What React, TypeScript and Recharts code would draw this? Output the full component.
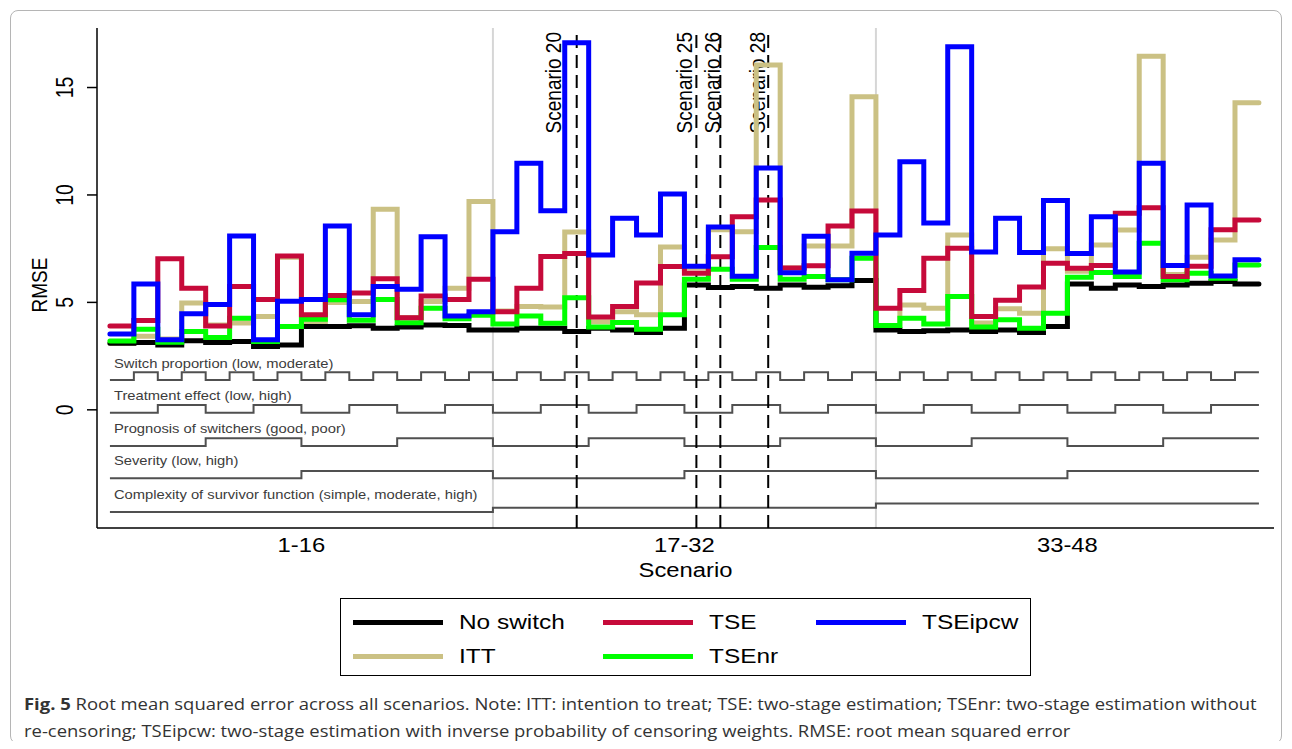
import React from "react";
import {
  Line,
  LineChart,
  ReferenceDot,
  ReferenceLine,
  XAxis,
  YAxis,
} from "recharts";

// RMSE per scenario (1..48)
const noSwitch = [
  3.1, 3.13, 3.02, 3.22, 3.13, 3.18, 2.95, 3.02, 3.88, 3.88, 3.91, 3.8,
  3.85, 3.95, 3.92, 3.72, 3.72, 3.8, 3.8, 3.65, 3.8, 3.72, 3.6, 3.8,
  5.81, 5.69, 5.74, 5.66, 5.81, 5.71, 5.77, 6.02, 3.72, 3.64, 3.68, 3.72,
  3.64, 3.72, 3.6, 3.88, 5.86, 5.66, 5.81, 5.74, 5.81, 5.89, 5.97, 5.85,
];
const tse = [
  3.9, 4.16, 7.03, 5.66, 3.9, 5.74, 5.14, 7.16, 4.42, 5.32, 5.44, 6.1,
  4.28, 5.3, 5.13, 6.08, 4.57, 5.66, 7.13, 7.27, 4.32, 4.81, 5.9, 6.67,
  6.36, 7.12, 8.99, 9.76, 6.6, 6.7, 8.55, 9.25, 4.73, 5.55, 7.05, 7.52,
  4.34, 5.1, 5.72, 6.82, 6.59, 6.72, 9.15, 9.41, 6.2, 6.68, 8.38, 8.84,
];
const tseIpcw = [
  3.53, 5.85, 3.26, 4.47, 4.9, 8.09, 3.26, 5.05, 5.13, 8.56, 4.42, 5.74,
  5.61, 8.06, 4.37, 4.57, 8.29, 11.47, 9.27, 17.08, 7.21, 8.91, 8.14, 10.05,
  6.68, 8.51, 6.22, 11.25, 6.38, 8.08, 6.05, 7.29, 8.14, 11.55, 8.7, 16.9,
  7.34, 8.91, 7.32, 9.74, 7.28, 8.99, 6.41, 11.47, 6.72, 9.53, 6.23, 6.98,
];
const itt = [
  3.1, 3.42, 3.3, 4.97, 3.95, 4.04, 4.34, 7.1, 4.05, 5.0, 5.04, 9.33,
  4.3, 5.04, 5.66, 9.7, 4.6, 4.81, 4.78, 8.28, 4.1, 4.57, 4.42, 7.58,
  6.6, 8.38, 8.29, 16.05, 6.6, 7.62, 7.62, 14.57, 3.9, 4.88, 4.73, 8.14,
  4.04, 4.7, 4.5, 7.5, 6.45, 7.67, 8.37, 16.45, 6.3, 7.1, 7.9, 14.29,
];
const tseNr = [
  3.2, 3.75, 3.15, 3.64, 3.37, 4.26, 3.18, 3.88, 4.22, 5.12, 4.17, 5.13,
  4.05, 4.73, 4.24, 4.4, 4.0, 4.37, 4.03, 5.22, 3.85, 4.06, 3.75, 4.42,
  6.08, 6.54, 6.08, 7.55, 6.08, 6.2, 6.05, 7.05, 3.92, 4.26, 4.0, 5.27,
  3.85, 4.19, 3.8, 4.5, 6.17, 6.39, 6.2, 7.75, 6.05, 6.36, 6.12, 6.74,
];

// design factor levels per scenario
const switchLevels = [
  0, 1, 0, 1, 0, 1, 0, 1, 0, 1, 0, 1, 0, 1, 0, 1, 0, 1, 0, 1, 0, 1, 0, 1,
  0, 1, 0, 1, 0, 1, 0, 1, 0, 1, 0, 1, 0, 1, 0, 1, 0, 1, 0, 1, 0, 1, 0, 1,
];
const effectLevels = [
  0, 0, 1, 1, 0, 0, 1, 1, 0, 0, 1, 1, 0, 0, 1, 1, 0, 0, 1, 1, 0, 0, 1, 1,
  0, 0, 1, 1, 0, 0, 1, 1, 0, 0, 1, 1, 0, 0, 1, 1, 0, 0, 1, 1, 0, 0, 1, 1,
];
const prognosisLevels = [
  0, 0, 0, 0, 1, 1, 1, 1, 0, 0, 0, 0, 1, 1, 1, 1, 0, 0, 0, 0, 1, 1, 1, 1,
  0, 0, 0, 0, 1, 1, 1, 1, 0, 0, 0, 0, 1, 1, 1, 1, 0, 0, 0, 0, 1, 1, 1, 1,
];
const severityLevels = [
  0, 0, 0, 0, 0, 0, 0, 0, 1, 1, 1, 1, 1, 1, 1, 1, 0, 0, 0, 0, 0, 0, 0, 0,
  1, 1, 1, 1, 1, 1, 1, 1, 0, 0, 0, 0, 0, 0, 0, 0, 1, 1, 1, 1, 1, 1, 1, 1,
];
const complexityLevels = [
  0, 0, 0, 0, 0, 0, 0, 0, 0, 0, 0, 0, 0, 0, 0, 0, 1, 1, 1, 1, 1, 1, 1, 1,
  1, 1, 1, 1, 1, 1, 1, 1, 2, 2, 2, 2, 2, 2, 2, 2, 2, 2, 2, 2, 2, 2, 2, 2,
];

const blockTicks = [8.5, 24.5, 40.5];
const blockLabels = ["1-16", "17-32", "33-48"];
const blockEdges = [16.5, 32.5];
const markedScenarios = [20, 25, 26, 28];
const yTicks = [0, 5, 10, 15];

// px gap between each scenario label and its dashed line
const LABEL_GAPS = [16, 4, 0, 3];

// draw order: first is at the bottom
const SERIES = [
  { key: "itt", name: "ITT", values: itt, color: "#cbc184" },
  { key: "noSwitch", name: "No switch", values: noSwitch, color: "#000000" },
  { key: "tseNr", name: "TSEnr", values: tseNr, color: "#00ff00" },
  { key: "tse", name: "TSE", values: tse, color: "#c60a3a" },
  { key: "tseIpcw", name: "TSEipcw", values: tseIpcw, color: "#0000ff" },
];

const FACTORS = [
  { label: "Switch proportion (low, moderate)", levels: switchLevels, base: 1.387, step: 0.358, labelY: 2.16 },
  { label: "Treatment effect (low, high)", levels: effectLevels, base: -0.135, step: 0.358, labelY: 0.675 },
  { label: "Prognosis of switchers (good, poor)", levels: prognosisLevels, base: -1.685, step: 0.358, labelY: -0.86 },
  { label: "Severity (low, high)", levels: severityLevels, base: -3.188, step: 0.34, labelY: -2.374 },
  { label: "Complexity of survivor function (simple, moderate, high)", levels: complexityLevels, base: -4.757, step: 0.2, labelY: -3.928 },
];

const LEGEND_ORDER = ["noSwitch", "tse", "tseIpcw", "itt", "tseNr"];
const LEGEND_SLOTS = [
  { left: 12, top: 23 },
  { left: 262, top: 23 },
  { left: 475, top: 23 },
  { left: 12, top: 57 },
  { left: 262, top: 57 },
];

const N = noSwitch.length;
const data = Array.from({ length: N + 1 }, (_, i) => {
  const k = Math.min(i, N - 1);
  const row: Record<string, number> = { x: i + 0.5 };
  SERIES.forEach((s) => {
    row[s.key] = s.values[k];
  });
  FACTORS.forEach((f, j) => {
    row[`f${j}`] = f.base + f.levels[k] * f.step;
  });
  return row;
});

const FONT = "'Liberation Sans', Arial, sans-serif";
// the source picture is stretched sideways, so text gets the same stretch
const SX = 1.19;
const stretch = (x: number, y: number, rotate = 0) =>
  `translate(${x} ${y}) scale(${SX} 1)${rotate ? ` rotate(${rotate})` : ""} translate(${-x} ${-y})`;

const XTick = (props: any) => {
  const { x, y, payload } = props;
  const label = blockLabels[blockTicks.indexOf(payload.value)];
  return (
    <text
      x={x}
      y={y + 15}
      transform={stretch(x, y + 15)}
      textAnchor="middle"
      fontSize={20}
      fill="#000"
      fontFamily={FONT}
    >
      {label}
    </text>
  );
};

const XTitle = (props: any) => {
  const { viewBox } = props;
  const x = viewBox.x + viewBox.width / 2;
  const y = viewBox.y + 49;
  return (
    <text
      x={x}
      y={y}
      transform={stretch(x, y)}
      textAnchor="middle"
      fontSize={20}
      fill="#000"
      fontFamily={FONT}
    >
      Scenario
    </text>
  );
};

const YTick = (props: any) => {
  const { x, y, payload } = props;
  return (
    <text
      x={x}
      y={y}
      transform={stretch(x, y, -90)}
      textAnchor="middle"
      fontSize={19.5}
      fill="#000"
      fontFamily={FONT}
    >
      {payload.value}
    </text>
  );
};

const YTitle = (props: any) => {
  const { viewBox } = props;
  const x = viewBox.x + 39;
  const y = viewBox.y + viewBox.height / 2 + 7;
  return (
    <text
      x={x}
      y={y}
      transform={stretch(x, y, -90)}
      textAnchor="middle"
      fontSize={19}
      fill="#000"
      fontFamily={FONT}
    >
      RMSE
    </text>
  );
};

const scenarioLabel = (text: string, gap: number) => (props: any) => {
  const { viewBox } = props;
  const x = viewBox.x - gap;
  const y = viewBox.y + 4;
  return (
    <text
      x={x}
      y={y}
      transform={stretch(x, y, -90)}
      textAnchor="end"
      fontSize={19}
      fill="#000"
      fontFamily={FONT}
    >
      {text}
    </text>
  );
};

const factorLabel = (text: string) => (props: any) => {
  const { viewBox } = props;
  const x = viewBox.x + 4;
  const y = viewBox.y + 4.4;
  return (
    <text
      x={x}
      y={y}
      transform={stretch(x, y)}
      fontSize={12.4}
      fill="#3c3c3c"
      fontFamily={FONT}
    >
      {text}
    </text>
  );
};

const App: React.FC = () => {
  const byKey = Object.fromEntries(SERIES.map((s) => [s.key, s]));

  return (
    <div
      style={{
        position: "relative",
        width: 1276,
        height: 733,
        fontFamily: FONT,
      }}
    >
      <div
        style={{
          position: "absolute",
          left: 2,
          top: 2,
          width: 1272,
          height: 734,
          border: "1px solid #b5b5b5",
          borderRadius: 8,
          boxSizing: "border-box",
        }}
      />

      <LineChart
        width={1276}
        height={600}
        data={data}
        margin={{ top: 20, right: 10, bottom: 0, left: 0 }}
        style={{ position: "absolute", left: 0, top: 0 }}
      >
        <XAxis
          type="number"
          dataKey="x"
          domain={[-0.04, 49.13]}
          ticks={blockTicks}
          interval={0}
          height={80}
          tickLine={false}
          tickMargin={3}
          axisLine={{ stroke: "#000", strokeWidth: 1.5 }}
          tick={<XTick />}
          label={{ content: <XTitle /> }}
        />
        <YAxis
          type="number"
          domain={[-5.5, 17.77]}
          ticks={yTicks}
          interval={0}
          width={89}
          tickSize={10}
          tickMargin={14}
          axisLine={{ stroke: "#000", strokeWidth: 1.5 }}
          tickLine={{ stroke: "#000", strokeWidth: 1.5 }}
          tick={<YTick />}
          label={{ content: <YTitle /> }}
        />

        {blockEdges.map((x) => (
          <ReferenceLine key={`edge-${x}`} x={x} stroke="#d6d6d6" strokeWidth={2} />
        ))}

        {FACTORS.map((f, j) => (
          <Line
            key={`f${j}`}
            type="stepAfter"
            dataKey={`f${j}`}
            stroke="#505050"
            strokeWidth={2}
            dot={false}
            activeDot={false}
            legendType="none"
            isAnimationActive={false}
          />
        ))}
        {FACTORS.map((f, j) => (
          <ReferenceDot
            key={`fl${j}`}
            x={0.5}
            y={f.labelY}
            r={0}
            shape={() => <g />}
            label={{ content: factorLabel(f.label) }}
          />
        ))}

        {markedScenarios.map((s, i) => (
          <ReferenceLine
            key={`sc-${s}`}
            x={s}
            stroke="#000"
            strokeWidth={2}
            strokeDasharray="13 7"
            label={{ content: scenarioLabel(`Scenario ${s}`, LABEL_GAPS[i]) }}
          />
        ))}

        {SERIES.map((s) => (
          <Line
            key={s.key}
            type="stepAfter"
            dataKey={s.key}
            name={s.name}
            stroke={s.color}
            strokeWidth={5}
            strokeLinecap="round"
            dot={false}
            activeDot={false}
            isAnimationActive={false}
          />
        ))}
      </LineChart>

      <div
        style={{
          position: "absolute",
          left: 332,
          top: 590,
          width: 691,
          height: 78,
          border: "1.5px solid #000",
          boxSizing: "border-box",
        }}
      >
        {LEGEND_ORDER.map((key, i) => {
          const s = byKey[key];
          const slot = LEGEND_SLOTS[i];
          return (
            <div
              key={key}
              style={{
                position: "absolute",
                left: slot.left,
                top: slot.top - 15,
                height: 30,
                display: "flex",
                alignItems: "center",
                whiteSpace: "nowrap",
              }}
            >
              <span
                style={{
                  display: "inline-block",
                  width: 90,
                  height: 5,
                  background: s.color,
                  marginRight: 16,
                }}
              />
              <span
                style={{
                  display: "inline-block",
                  fontSize: 20.5,
                  color: "#000",
                  transform: `scaleX(${SX})`,
                  transformOrigin: "left center",
                }}
              >
                {s.name}
              </span>
            </div>
          );
        })}
      </div>

      <div
        style={{
          position: "absolute",
          left: 16,
          top: 683,
          fontFamily: "'Open Sans', sans-serif",
          fontSize: 15.5,
          lineHeight: "27px",
          color: "#333",
          whiteSpace: "nowrap",
          transform: `scaleX(${SX})`,
          transformOrigin: "left top",
        }}
      >
        <b>Fig. 5</b> Root mean squared error across all scenarios. Note: ITT:
        intention to treat; TSE: two-stage estimation; TSEnr: two-stage
        estimation without
        <br />
        re-censoring; TSEipcw: two-stage estimation with inverse probability of
        censoring weights. RMSE: root mean squared error
      </div>
    </div>
  );
};

export default App;
